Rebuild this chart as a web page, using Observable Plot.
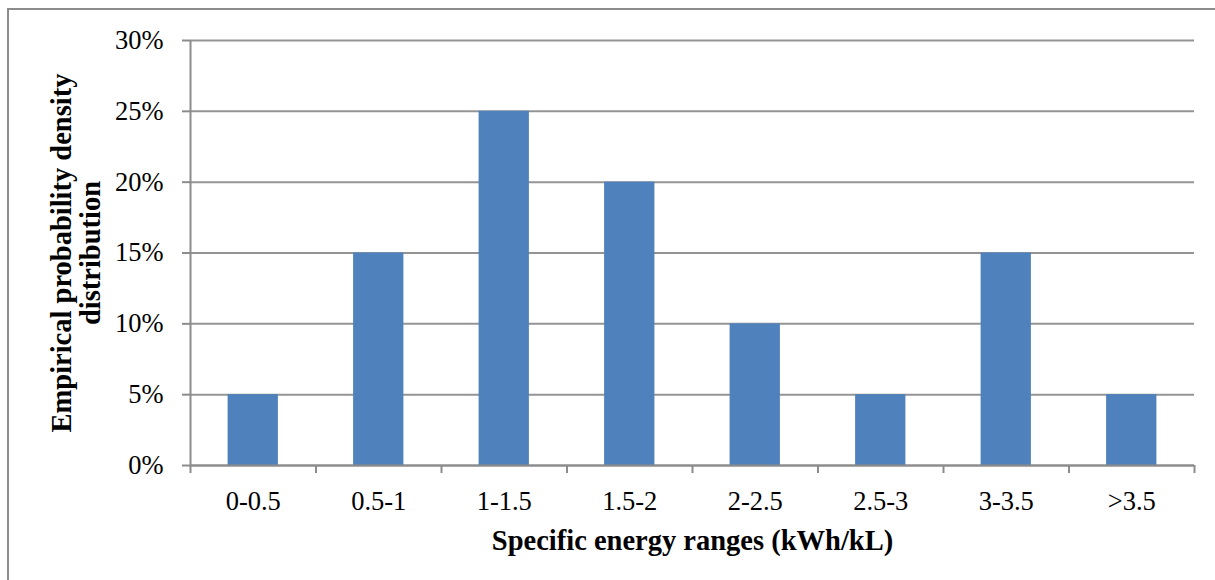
<!DOCTYPE html>
<html>
<head>
<meta charset="utf-8">
<script src="https://cdn.jsdelivr.net/npm/d3@7"></script>
<script src="https://cdn.jsdelivr.net/npm/@observablehq/plot@0.6"></script>
<style>
  html, body { margin: 0; padding: 0; background: #fff; overflow: hidden; width: 1215px; height: 580px; }
  #frame { position: absolute; left: 7px; top: 8px; width: 1220px; height: 600px; border: 2px solid #8c8c8c; box-sizing: border-box; }
  #chart { position: absolute; left: 0; top: 0; }
</style>
</head>
<body>
<div id="frame"></div>
<div id="chart"></div>
<script>
const categories = ["0-0.5", "0.5-1", "1-1.5", "1.5-2", "2-2.5", "2.5-3", "3-3.5", ">3.5"];
const shares = [0.05, 0.15, 0.25, 0.20, 0.10, 0.05, 0.15, 0.05];
const yTicks = [0, 0.05, 0.10, 0.15, 0.20, 0.25, 0.30];
const xTitle = "Specific energy ranges (kWh/kL)";
const yTitle = "Empirical probability density\ndistribution";

const data = categories.map((c, i) => ({ c, i, v: shares[i] }));
const gray = "#8c8c8c";

const chart = Plot.plot({
  width: 1215,
  height: 580,
  marginLeft: 190,
  marginRight: 21,
  marginTop: 40,
  marginBottom: 115,
  style: { fontFamily: "'Liberation Serif', 'Times New Roman', serif", fontSize: "26.5px", background: "transparent", color: "#000" },
  x: { domain: [0, categories.length], axis: null, label: null },
  y: { domain: [0, 0.30], axis: null, label: null },
  marks: [
    Plot.gridY(yTicks, { stroke: "#949494", strokeOpacity: 1, strokeWidth: 2 }),
    Plot.rectY(data, { x1: "i", x2: d => d.i + 1, y: "v", fill: "#4F81BD", insetLeft: 37.6, insetRight: 37.6 }),
    Plot.axisY(yTicks, { tickFormat: d3.format(".0%"), tickSize: 8, tickPadding: 19, stroke: gray, strokeWidth: 2, strokeOpacity: 1, fontSize: 26.5, label: null }),
    Plot.ruleX([0], { stroke: gray, strokeWidth: 2 }),
    Plot.axisX(d3.range(categories.length + 1), { tickFormat: () => "", tickSize: 8, stroke: gray, strokeWidth: 2, strokeOpacity: 1, label: null }),
    Plot.axisX(data.map(d => d.i + 0.5), { tickFormat: d => categories[Math.floor(d)], tickSize: 0, tickPadding: 26, fontSize: 26.5, label: null }),
    Plot.ruleY([0], { stroke: gray, strokeWidth: 2 }),
    Plot.text([xTitle], { frameAnchor: "bottom", dy: 75, fontWeight: "bold", fontSize: 28.5, lineAnchor: "middle", textAnchor: "middle" }),
    Plot.text([yTitle], { frameAnchor: "left", dx: -114, rotate: -90, fontWeight: "bold", fontSize: 28.5, lineAnchor: "middle", textAnchor: "middle", lineHeight: 1.0 })
  ]
});
document.getElementById("chart").appendChild(chart);
</script>
</body>
</html>
